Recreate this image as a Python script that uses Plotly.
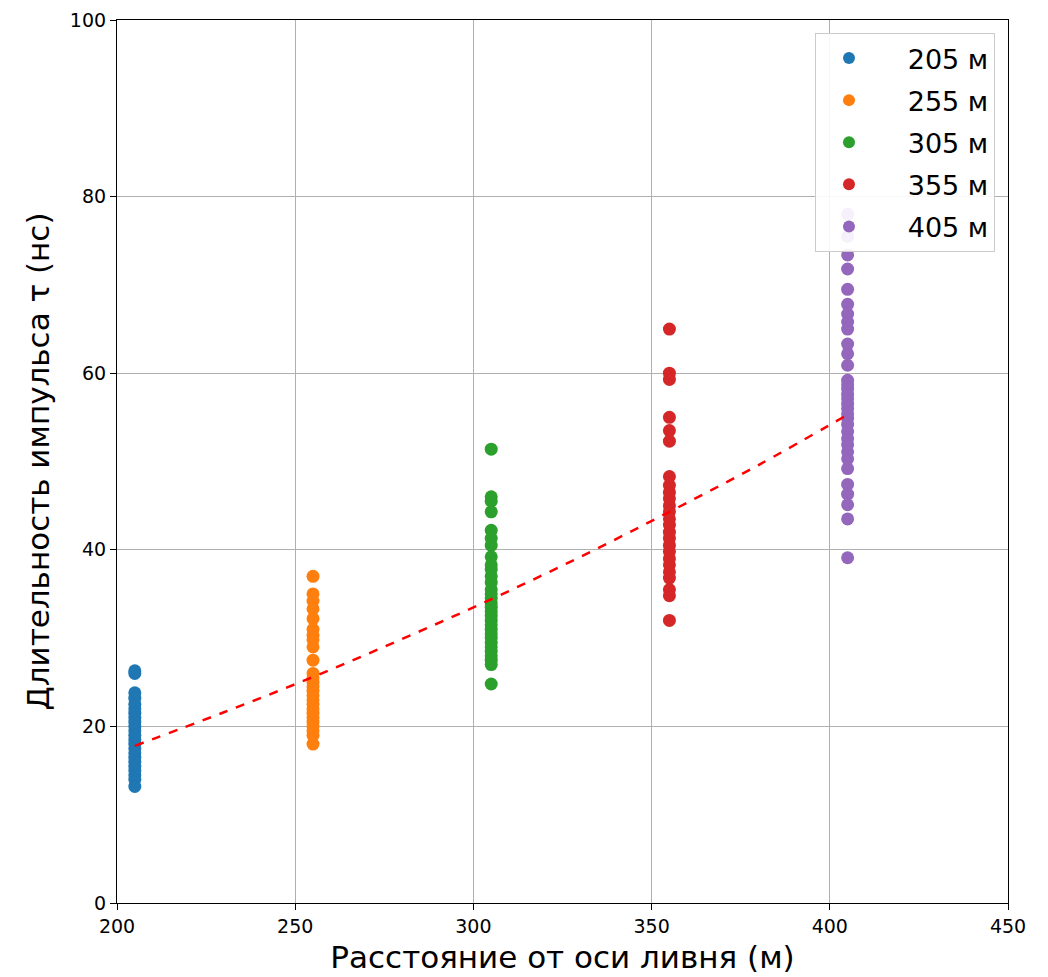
import plotly.graph_objects as go

distances = [205, 255, 305, 355, 405]
labels = ["205 м", "255 м", "305 м", "355 м", "405 м"]
colors = ["#1f77b4", "#ff7f0e", "#2ca02c", "#d62728", "#9467bd"]

tau_205 = [26.3, 26.0, 23.8, 23.2, 22.5, 22.0, 21.5, 21.0, 20.5, 20.0, 19.5, 19.0,
           18.5, 18.0, 17.5, 17.0, 16.5, 16.0, 15.5, 15.0, 14.5, 14.0, 13.2]
tau_255 = [37.0, 35.0, 34.2, 33.3, 32.2, 31.0, 30.3, 29.8, 29.0, 27.5, 26.0, 25.5,
           25.0, 24.5, 24.0, 23.5, 23.0, 22.5, 22.0, 21.5, 21.0, 20.5, 20.0, 19.5,
           19.0, 18.0]
tau_305 = [51.4, 46.0, 45.5, 44.3, 42.2, 41.3, 40.5, 39.2, 38.3, 37.8, 37.0, 36.3,
           35.5, 35.0, 34.5, 34.0, 33.5, 33.0, 32.5, 32.0, 31.5, 31.0, 30.5, 30.0,
           29.5, 29.0, 28.5, 28.0, 27.5, 27.0, 24.8]
tau_355 = [65.0, 60.0, 59.3, 55.0, 53.5, 52.3, 48.3, 47.3, 46.5, 45.8, 45.0, 44.3,
           43.5, 42.8, 42.0, 41.3, 40.5, 39.8, 39.0, 38.3, 37.5, 36.8, 35.5, 34.8, 32.0]
tau_405 = [78.0, 75.5, 73.4, 71.8, 69.5, 67.8, 66.7, 65.8, 65.0, 63.3, 62.2, 60.9,
           59.2, 58.7, 58.2, 57.6, 57.1, 56.5, 56.0, 55.4, 54.9, 54.2, 53.4, 52.6,
           51.9, 51.1, 50.3, 49.2, 47.4, 46.3, 45.1, 43.5, 39.1]
all_tau = [tau_205, tau_255, tau_305, tau_355, tau_405]

fit_x = [205, 230, 255, 280, 305, 330, 355, 380, 405]
fit_y = [17.8, 21.6, 25.6, 29.9, 34.4, 39.2, 44.3, 49.6, 55.3]

fig = go.Figure()
for d, lab, col, vals in zip(distances, labels, colors, all_tau):
    fig.add_trace(go.Scatter(
        x=[d] * len(vals), y=vals, mode="markers",
        name="\u00a0\u00a0\u00a0" + lab, legendgroup=lab,
        marker=dict(color=col, size=13, line=dict(width=0)),
    ))

fig.add_trace(go.Scatter(
    x=fit_x, y=fit_y, mode="lines", showlegend=False,
    line=dict(color="red", width=2.5, dash="dash", shape="spline"),
))

axis_common = dict(
    showline=True, linecolor="black", linewidth=1.2, mirror=True,
    ticks="outside", ticklen=6, tickcolor="black", tickwidth=1.2,
    showgrid=True, gridcolor="#b0b0b0", gridwidth=1, zeroline=False,
    tickfont=dict(size=19, color="black"), ticklabeloverflow="allow",
    automargin=False,
)

fig.update_layout(
    width=1048, height=977,
    margin=dict(l=109, r=48, t=12, b=82),
    paper_bgcolor="white", plot_bgcolor="white",
    font=dict(family="DejaVu Sans", color="black"),
    xaxis=dict(range=[200, 450], tickvals=[200, 250, 300, 350, 400, 450],
               title=dict(text="Расстояние от оси ливня (м)", font=dict(size=31), standoff=10),
               **axis_common),
    yaxis=dict(range=[0, 100], tickvals=[0, 20, 40, 60, 80, 100],
               title=dict(text="Длительность импульса τ (нс)", font=dict(size=31), standoff=10),
               **axis_common),
    legend=dict(x=0.9854, y=0.9853, xanchor="right", yanchor="top",
                bgcolor="rgba(255,255,255,0.9)", bordercolor="#cccccc", borderwidth=1,
                font=dict(size=27), itemsizing="constant", tracegroupgap=4,
                itemwidth=56),
)

fig.write_html("out.html")
